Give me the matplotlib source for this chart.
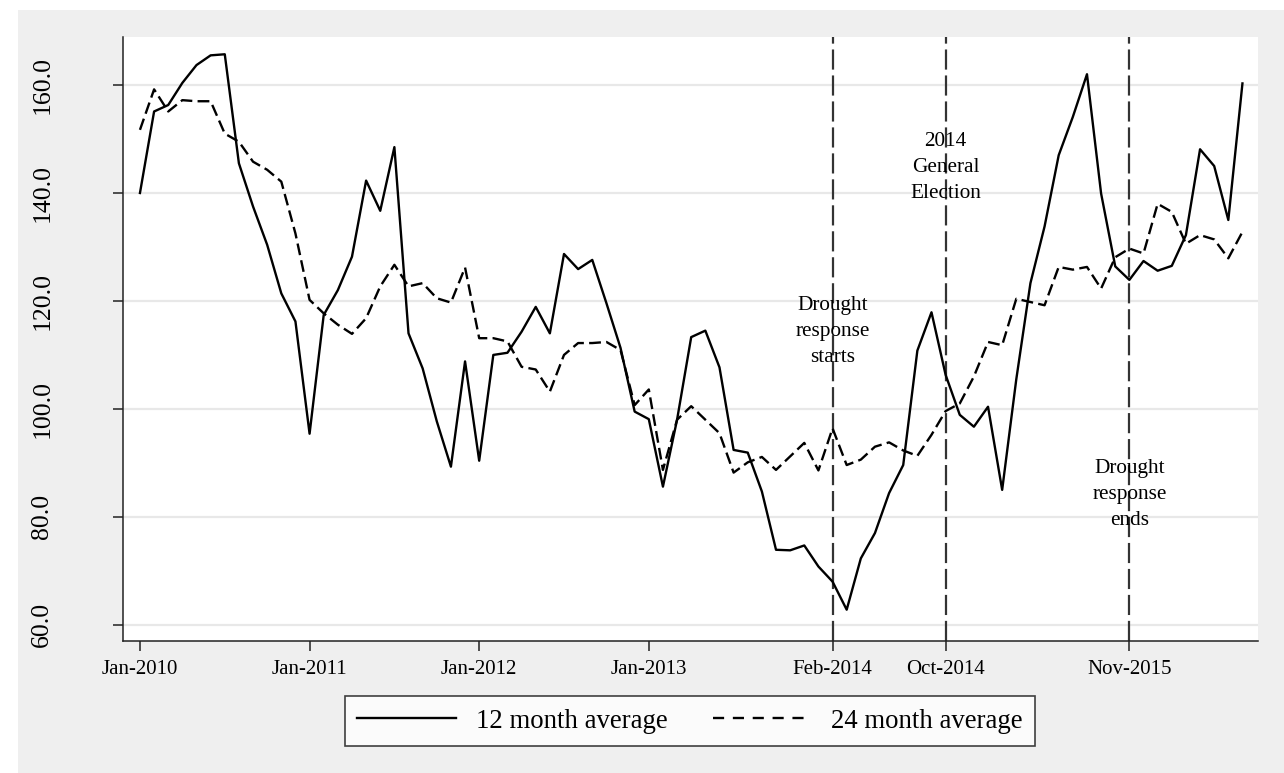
import numpy as np
import matplotlib
matplotlib.use("Agg")
import matplotlib.pyplot as plt
from matplotlib.patches import Rectangle
from matplotlib.legend_handler import HandlerLine2D

plt.rcParams['font.family'] = ['Liberation Serif', 'DejaVu Serif']
plt.rcParams['lines.scale_dashes'] = False

# ---- data (monthly, Jan-2010 .. Jul-2016) ----
start_year, start_month = 2010, 1
avg12 = [140.0, 155.1, 156.3, 160.4, 163.7, 165.5, 165.7, 145.5, 137.5, 130.4,
         121.4, 116.2, 95.4, 117.4, 122.0, 128.2, 142.3, 136.7, 148.5, 114.0,
         107.5, 97.7, 89.3, 108.8, 90.4, 110.0, 110.4, 114.3, 118.9, 114.0,
         128.7, 125.9, 127.6, 119.6, 111.3, 99.5, 98.1, 85.6, 98.0, 113.3,
         114.5, 107.7, 92.4, 91.9, 84.7, 73.9, 73.8, 74.7, 70.8, 68.0,
         62.8, 72.3, 77.0, 84.4, 89.6, 110.8, 117.9, 106.3, 98.9, 96.7,
         100.4, 85.0, 105.5, 123.3, 133.8, 147.0, 154.1, 162.0, 139.9, 126.4,
         123.9, 127.4, 125.6, 126.5, 132.2, 148.1, 145.0, 135.0, 160.3]
avg24 = [151.7, 159.2, 155.1, 157.2, 157.0, 157.0, 151.0, 149.5, 145.8, 144.3,
         142.1, 132.5, 120.2, 117.7, 115.6, 113.9, 116.8, 122.7, 126.7, 122.7,
         123.3, 120.5, 119.7, 126.2, 113.1, 113.1, 112.5, 107.8, 107.3, 103.2,
         110.0, 112.2, 112.2, 112.4, 110.9, 100.7, 103.6, 88.7, 98.0, 100.5,
         98.0, 95.5, 88.2, 90.1, 91.1, 88.7, 91.2, 93.7, 88.6, 96.4,
         89.6, 90.6, 93.0, 93.8, 92.3, 91.3, 95.2, 99.6, 101.0, 106.0,
         112.4, 111.8, 120.4, 119.8, 119.2, 126.3, 125.8, 126.3, 122.3, 128.1,
         129.7, 128.8, 138.0, 136.5, 130.6, 132.2, 131.4, 127.9, 132.8]
series_labels = ["12 month average", "24 month average"]

xtick_labels = ["Jan-2010", "Jan-2011", "Jan-2012", "Jan-2013",
                "Feb-2014", "Oct-2014", "Nov-2015"]
ytick_values = [60, 80, 100, 120, 140, 160]

event_labels = ["Drought\nresponse\nstarts", "2014\nGeneral\nElection",
                "Drought\nresponse\nends"]
event_months = ["Feb-2014", "Oct-2014", "Nov-2015"]
event_label_y = [114.4, 144.8, 84.2]

MONTHS = ["Jan", "Feb", "Mar", "Apr", "May", "Jun", "Jul", "Aug", "Sep",
          "Oct", "Nov", "Dec"]


def month_index(label):
    mon, yr = label.split("-")
    return (int(yr) - start_year) * 12 + MONTHS.index(mon) - (start_month - 1)


x = np.arange(len(avg12))

W, H = 1284, 773
fig = plt.figure(figsize=(W / 100, H / 100), dpi=100, facecolor="white")
fig.patches.append(Rectangle((18 / W, 0), 1 - 18 / W, 1 - 10 / H,
                             transform=fig.transFigure, facecolor="#efefef",
                             edgecolor="none", zorder=-10))

ax = fig.add_axes([123 / W, 1 - 641 / H, (1258 - 123) / W, (641 - 37) / H])
ax.set_facecolor("white")

ax.set_xlim(-1.2, 79.1)
ax.set_ylim(57.0, 168.9)

# grid
for v in ytick_values:
    ax.axhline(v, color="#e8e8e8", lw=1.6, zorder=0)

# event lines
for m in event_months:
    ax.axvline(month_index(m), color="#333333", lw=1.6,
               dashes=(14.5, 4.2), zorder=1)

l1, = ax.plot(x, avg12, color="black", lw=1.7, zorder=3,
              label=series_labels[0])
l2, = ax.plot(x, avg24, color="black", lw=1.7, dashes=(8.5, 3.8), zorder=3,
              label=series_labels[1])

for txt, m, yv in zip(event_labels, event_months, event_label_y):
    ax.text(month_index(m), yv, txt, ha="center", va="center",
            fontsize=15.3, linespacing=1.5, zorder=4)

# axes style
for s in ["top", "right"]:
    ax.spines[s].set_visible(False)
for s in ["left", "bottom"]:
    ax.spines[s].set_color("#222222")
    ax.spines[s].set_linewidth(1.1)

ax.set_xticks([month_index(l) for l in xtick_labels])
ax.set_xticklabels(xtick_labels, fontsize=15)
ax.set_yticks(ytick_values)
ax.set_yticklabels([f"{v:.1f}" for v in ytick_values], fontsize=18.5,
                   rotation=90)
for lab in ax.get_yticklabels():
    lab.set_va("center")
ax.tick_params(axis="x", length=7.2, width=1.1, color="#222222", pad=6.5)
ax.tick_params(axis="y", length=7.2, width=1.1, color="#222222", pad=43)


def legend_dashes(handle, orig):
    handle.update_from(orig)
    if orig is l2:
        handle.set_dashes((8.0, 6.3))


leg = fig.legend(handles=[l1, l2], loc="center", ncol=2,
                 bbox_to_anchor=(690 / W, 1 - 721 / H), fontsize=19.3,
                 frameon=True, fancybox=False, shadow=False,
                 handlelength=3.7, handletextpad=0.72, columnspacing=1.7,
                 borderpad=0.45, borderaxespad=0,
                 handler_map={l1: HandlerLine2D(update_func=legend_dashes),
                              l2: HandlerLine2D(update_func=legend_dashes)})
leg.get_frame().set_edgecolor("#111111")
leg.get_frame().set_linewidth(1.2)
leg.get_frame().set_facecolor("white")

fig.savefig("out.png", dpi=100, facecolor=fig.get_facecolor())
